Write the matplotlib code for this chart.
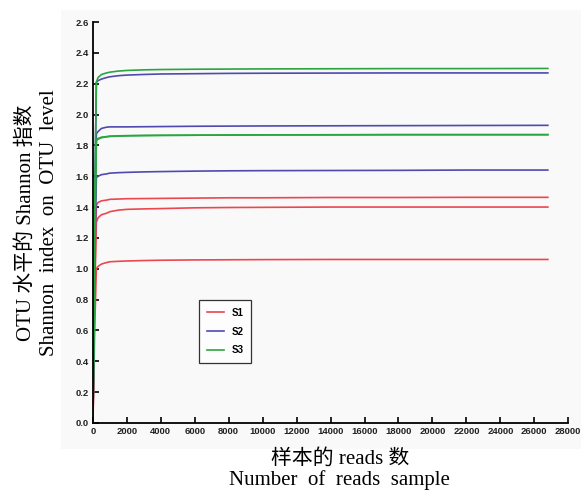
import matplotlib
matplotlib.use('Agg')
import matplotlib.pyplot as plt

plt.rcParams['font.family'] = ['Liberation Sans', 'Noto Sans CJK SC']

# rarefaction depths (reads per sample)
depths = [0, 100, 200, 300, 500, 800, 1000, 1500, 2000, 3000, 4000, 6000, 8000,
          10000, 14000, 18000, 22000, 26800]

# Shannon index per replicate
s1_a = [0.0, 0.6, 1.0, 1.015, 1.03, 1.04, 1.045, 1.048, 1.05, 1.053, 1.055, 1.057, 1.058,
        1.059, 1.06, 1.06, 1.06, 1.06]
s1_b = [0.0, 0.8, 1.30, 1.33, 1.35, 1.36, 1.37, 1.38, 1.385, 1.388, 1.39, 1.395, 1.397,
        1.398, 1.4, 1.4, 1.4, 1.4]
s1_c = [0.0, 0.9, 1.41, 1.43, 1.44, 1.445, 1.45, 1.452, 1.454, 1.455, 1.456, 1.458, 1.46,
        1.46, 1.462, 1.462, 1.463, 1.463]
s2_a = [0.0, 1.0, 1.59, 1.60, 1.61, 1.615, 1.62, 1.623, 1.625, 1.628, 1.63, 1.633, 1.635,
        1.636, 1.637, 1.638, 1.64, 1.64]
s2_b = [0.0, 1.2, 1.875, 1.89, 1.91, 1.918, 1.92, 1.92, 1.92, 1.921, 1.922, 1.924, 1.925,
        1.926, 1.927, 1.928, 1.929, 1.93]
s2_c = [0.0, 1.4, 2.21, 2.22, 2.23, 2.24, 2.245, 2.252, 2.256, 2.26, 2.263, 2.265, 2.267,
        2.268, 2.269, 2.27, 2.27, 2.27]
s3_a = [0.0, 1.2, 1.83, 1.84, 1.85, 1.855, 1.858, 1.86, 1.862, 1.864, 1.865, 1.866, 1.867,
        1.868, 1.869, 1.87, 1.87, 1.87]
s3_b = [0.0, 1.2, 1.835, 1.845, 1.853, 1.857, 1.86, 1.862, 1.863, 1.864, 1.865, 1.866, 1.867,
        1.868, 1.868, 1.869, 1.869, 1.869]
s3_c = [0.0, 1.4, 2.21, 2.24, 2.26, 2.27, 2.275, 2.282, 2.286, 2.29, 2.292, 2.294, 2.295,
        2.296, 2.297, 2.298, 2.298, 2.299]

groups = {
    'S1': ([s1_a, s1_b, s1_c], '#ec4650'),
    'S2': ([s2_a, s2_b, s2_c], '#5049b0'),
    'S3': ([s3_a, s3_b, s3_c], '#2aa640'),
}

fig = plt.figure(figsize=(5.81, 4.90), dpi=100)

# light grey panel behind the plot
bg = fig.add_axes([0.105, 0.084, 0.895, 0.896], zorder=-1)
bg.set_facecolor('#f9f9f9')
bg.set_xticks([])
bg.set_yticks([])
for s in bg.spines.values():
    s.set_visible(False)

ax = fig.add_axes([0.160, 0.137, 0.818, 0.818])
ax.set_facecolor('none')

for name, (reps, color) in groups.items():
    for i, vals in enumerate(reps):
        ax.plot(depths, vals, color=color, lw=1.2, label=name if i == 0 else None)

ax.set_xlim(0, 28000)
ax.set_ylim(0, 2.6)
ax.set_xticks(range(0, 28001, 2000))
ax.set_yticks([i / 10 for i in range(0, 27, 2)])
ax.set_yticklabels(['%.1f' % (i / 10) for i in range(0, 27, 2)])
for s in ['top', 'right']:
    ax.spines[s].set_visible(False)
for s in ['left', 'bottom']:
    ax.spines[s].set_linewidth(1.3)
ax.tick_params(direction='in', length=4, width=1.2, labelsize=6.8, pad=3)
for lab in ax.get_xticklabels() + ax.get_yticklabels():
    lab.set_fontweight('bold')
    lab.set_color('#222222')

leg = ax.legend(loc='lower left', bbox_to_anchor=(0.224, 0.149),
                frameon=True, fancybox=False, handlelength=1.7, handletextpad=0.8,
                labelspacing=0.9, borderpad=0.8, borderaxespad=0.0,
                prop={'weight': 'bold', 'size': 7})
leg.get_frame().set_edgecolor('black')
leg.get_frame().set_linewidth(0.9)
leg.get_frame().set_facecolor('white')

serif = ['Liberation Serif', 'Noto Sans CJK SC']
fig.text(0.045, 0.545, 'OTU 水平的 Shannon 指数', rotation=90, ha='center', va='center',
         fontsize=15, family=serif)
fig.text(0.085, 0.545, 'Shannon  index  on  OTU  level', rotation=90, ha='center',
         va='center', fontsize=15, family=serif)
fig.text(0.585, 0.063, '样本的 reads 数', ha='center', va='center', fontsize=15,
         family=serif)
fig.text(0.585, 0.02, 'Number  of  reads  sample', ha='center', va='center',
         fontsize=15, family=serif)

fig.savefig('out.png', dpi=100, facecolor='white')
